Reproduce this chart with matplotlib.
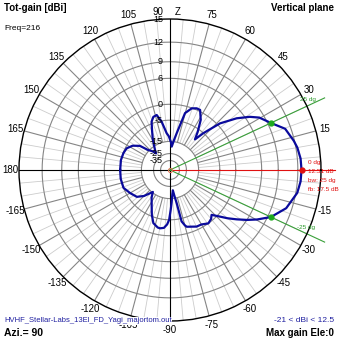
import numpy as np
import matplotlib
matplotlib.use("Agg")
import matplotlib.pyplot as plt
from matplotlib.transforms import offset_copy

# elevation angle in degrees (0 = forward horizon) and total gain in dBi
ele_deg = [-180, -170, -159, -150, -141, -135, -130.6, -128, -124, -116.5,
           -112, -107.4, -102, -99.7, -96, -93, -91, -89, -87, -84.5,
           -82, -80.5, -78.6, -77.3, -75, -73.6, -64.8, -60, -54.3, -50,
           -47.2, -43, -40, -36.5, -33, -29.6, -25, -18.2, -10.2, -5,
           0, 5, 10, 13.3, 19.7, 25, 30.4, 33.7, 37.8, 43,
           47.8, 50.8, 54, 58.5, 63.4, 66.6, 70.6, 75.2, 79.7, 82,
           85.8, 88, 92, 95.2, 99.8, 103.6, 107.4, 110.8, 114.2, 119.5,
           126.9, 130, 133, 137.7, 141.3, 147, 153.4, 160, 168.7, 180]
gain_dbi = [-5.0, -4.9, -5.0, -6.4, -7.8, -10.5, -13.8, -15.5, -12.5, -8.5,
            -5.5, -3.0, -2.0, -1.9, -2.2, -3.4, -5.0, -9.0, -13.0, -18.0,
            -21.0, -17.0, -12.0, -4.0, -2.5, -1.9, -0.9, -0.8, 0.0, -0.5,
            -1.3, 0.7, 2.4, 4.2, 6.0, 7.6, 9.5, 11.2, 12.2, 12.45,
            12.51, 12.45, 12.2, 11.9, 11.2, 9.5, 8.2, 6.8, 4.5, 0.7,
            -5.0, -9.2, -6.0, -2.0, 0.4, 0.4, -0.1, -2.0, -10.2, -13.5,
            -18.6, -15.5, -12.0, -10.4, -5.3, -2.7, -3.0, -4.3, -7.3, -11.4,
            -17.5, -20.0, -17.0, -14.3, -9.6, -7.0, -5.5, -5.1, -4.9, -5.0]

ring_dbi = [15, 12, 9, 6, 0, -5, -15, -25, -35]
angle_labels = [15, 30, 45, 60, 75, 105, 120, 135, 150, 165, 180,
                -165, -150, -135, -120, -105, -90, -75, -60, -45, -30, -15]
max_gain = 12.51
max_ele = 0
beam_edges = [25, -25]
beamwidth = 25
fb_ratio = 17.5
min_gain = -21

# log radial scale: 15 dBi on the rim, ~0.895 of radius per 2 dB
TOP = 15.0
K = 0.05545
CENTER = -250.0
FONT = "Liberation Sans"


def fwd(d):
    return np.exp(K * (np.asarray(d, dtype=float) - TOP))


def inv(r):
    return TOP + np.log(np.clip(np.asarray(r, dtype=float), 1e-12, None)) / K


W = H = 339
fig = plt.figure(figsize=(W / 100, H / 100), dpi=100)
fig.patch.set_facecolor("white")
ax = fig.add_axes([19 / W, 18 / H, 302 / W, 302 / H], projection="polar")
ax.set_rscale("function", functions=(fwd, inv))
ax.set_rlim(CENTER, TOP)
ax.set_xticks([])
ax.set_yticks([])
ax.grid(False)
ax.spines["polar"].set_color("black")
ax.spines["polar"].set_linewidth(1.0)

full = np.linspace(0, 2 * np.pi, 721)
for v in ring_dbi[1:]:
    ax.plot(full, np.full_like(full, v), color="#858585", lw=0.8, zorder=1)

for a in range(0, 360, 5):
    t = np.radians(a)
    if a % 90 == 0:
        continue
    if a % 15 == 0:
        ax.plot([t, t], [-15, TOP], color="#858585", lw=0.8, zorder=1)
    else:
        ax.plot([t, t], [-15, TOP], color="#cccccc", lw=0.6, zorder=0.9)

# spokes through the centre
for t in [np.pi / 2, np.pi, -np.pi / 2]:
    ax.plot([t, t], [CENTER, TOP], color="black", lw=0.8, zorder=2)
ax.plot([0, 0], [CENTER, 16.6], color="#e01010", lw=0.8, zorder=2, clip_on=False)

# half-power directions
for e in beam_edges:
    t = np.radians(e)
    ax.plot([t, t], [CENTER, 17.2], color="#3aa03a", lw=0.8, zorder=2, clip_on=False)

ax.plot(np.radians(ele_deg), gain_dbi, color="#0a0a9c", lw=1.6, zorder=3)

ax.plot(np.radians(beam_edges), [max_gain - 3] * 2, "o", color="#1faa1f",
        ms=3.5, zorder=4, ls="none")
ax.plot([np.radians(max_ele)], [max_gain], "o", color="#e01010", ms=3.5, zorder=4)
ax.plot([0], [CENTER], "o", mfc="none", mec="#e07050", ms=3, mew=0.7, zorder=4)

# ring values along the vertical axis
lab_tf = offset_copy(ax.transData, fig=fig, x=-7, y=0, units="dots")
for v in ring_dbi:
    ax.text(np.pi / 2, v, str(v), transform=lab_tf, ha="right", va="center",
            fontsize=6.5, family=FONT, zorder=5)

# angle labels round the rim
for a in angle_labels:
    t = np.radians(a)
    ax.text(0.5 + 0.53 * np.cos(t), 0.5 + 0.53 * np.sin(t), str(a),
            transform=ax.transAxes, ha="center", va="center",
            fontsize=7, family=FONT, zorder=1)


def px(x, y):
    return x / W, 1 - y / H


fig.text(*px(163, 12), "90", ha="right", va="center", fontsize=7, family=FONT)
fig.text(*px(175, 12), "Z", ha="left", va="center", fontsize=7, family=FONT)

fig.text(*px(4, 8), "Tot-gain [dBi]", ha="left", va="center", fontsize=7,
         fontweight="bold", family=FONT)
fig.text(*px(4, 28), "Freq=216", ha="left", va="center", fontsize=6,
         family=FONT)
fig.text(*px(334, 8), "Vertical plane", ha="right", va="center", fontsize=7,
         fontweight="bold", family=FONT)
fig.text(*px(4, 321), "HVHF_Stellar-Labs_13El_FD_Yagi_majortom.out", ha="left",
         va="center", fontsize=5.5, color="#2020a0", family=FONT, zorder=6,
         bbox=dict(facecolor="white", edgecolor="none", pad=0.3))
fig.text(*px(4, 333), "Azi.= 90", ha="left", va="center", fontsize=7.5,
         fontweight="bold", family=FONT)
fig.text(*px(334, 321), f"{min_gain} < dBi < {max_gain:.1f}", ha="right",
         va="center", fontsize=6, color="#2020a0", family=FONT)
fig.text(*px(334, 333), f"Max gain Ele:{max_ele}", ha="right", va="center",
         fontsize=7, fontweight="bold", family=FONT)

red_lines = [f"{max_ele} dg", f"{max_gain} dB", f"bw: {beamwidth} dg", f"fb: {fb_ratio} dB"]
for i, s in enumerate(red_lines):
    fig.text(*px(308, 162 + 9.3 * i), s, ha="left", va="center", fontsize=4.6,
             color="#e01010", family=FONT)

fig.text(*px(300, 99), f"{beam_edges[0]} dg", ha="left", va="center", fontsize=4.6,
         color="#2a9a2a", family=FONT)
fig.text(*px(297, 228), f"{beam_edges[1]} dg", ha="left", va="center", fontsize=4.6,
         color="#2a9a2a", family=FONT)

fig.savefig("out.png", dpi=100)
